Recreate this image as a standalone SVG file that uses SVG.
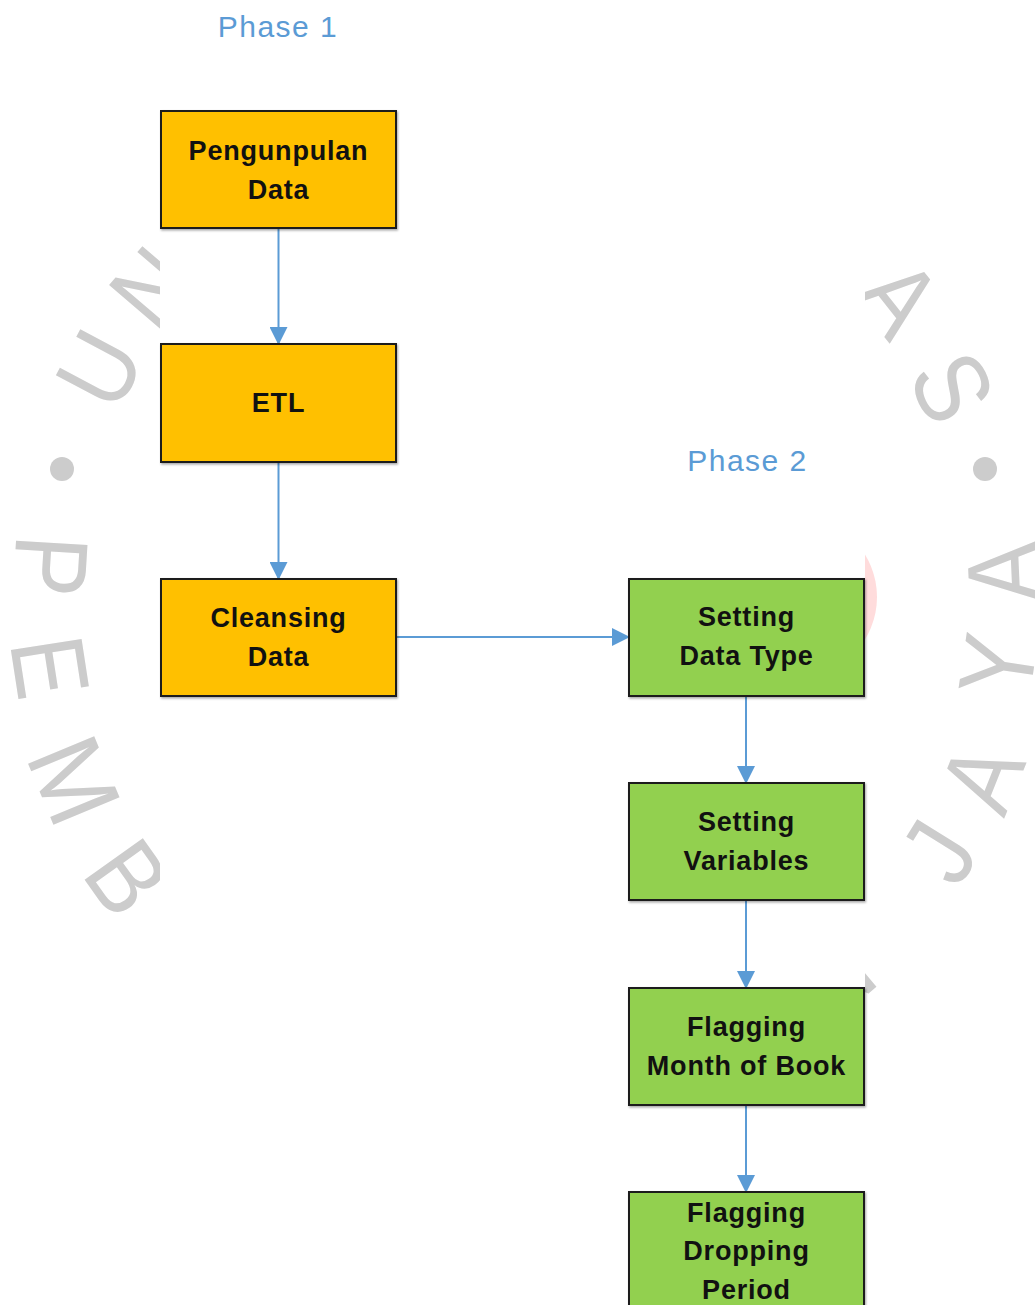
<svg xmlns="http://www.w3.org/2000/svg" width="1035" height="1305" viewBox="0 0 1035 1305">
  <defs>
    <style>
      .wm { font-family: "Liberation Sans", Arial, sans-serif; font-size: 104px; fill: #cccccc; text-anchor: middle; }
      .box { stroke: #1e1e1e; stroke-width: 2; filter: url(#sh); }
      .orange { fill: #ffc000; }
      .green { fill: #92d050; }
      .lbl { font-family: "Liberation Sans", Arial, sans-serif; font-size: 27px; font-weight: bold; fill: #111111; text-anchor: middle; letter-spacing: 0.8px; }
      .phase { font-family: "Liberation Sans", Arial, sans-serif; font-size: 30px; fill: #5b9bd5; text-anchor: middle; letter-spacing: 1.5px; }
      .conn { stroke: #5b9bd5; stroke-width: 2; fill: none; marker-end: url(#arr); }
    </style>
    <filter id="sh" x="-5%" y="-5%" width="115%" height="115%">
      <feDropShadow dx="1" dy="1.5" stdDeviation="1" flood-color="#000000" flood-opacity="0.35"/>
    </filter>
    <marker id="arr" markerUnits="userSpaceOnUse" markerWidth="18" markerHeight="18" refX="17" refY="9" orient="auto">
      <path d="M0,0 L18,9 L0,18 Z" fill="#5b9bd5"/>
    </marker>
    <clipPath id="wmclip">
      <rect x="0" y="0" width="160" height="1305"/>
      <rect x="865" y="0" width="170" height="1305"/>
    </clipPath>
  </defs>

  <rect x="0" y="0" width="1035" height="1305" fill="#ffffff"/>

  <g id="watermark" clip-path="url(#wmclip)">
    <circle cx="796" cy="597" r="81" fill="#ffdcdc"/>
    <circle cx="62" cy="469" r="12" fill="#cccccc"/>
    <circle cx="985" cy="469" r="12" fill="#cccccc"/>
    <text class="wm" transform="translate(98.5,368.5) rotate(-62) scale(0.88,1)" y="37">U</text>
    <text class="wm" transform="translate(152,288) rotate(-49.4) scale(0.88,1)" y="37">N</text>
    <text class="wm" transform="translate(900,297) rotate(51.7) scale(0.88,1)" y="37">A</text>
    <text class="wm" transform="translate(953,387) rotate(64.3) scale(0.88,1)" y="37">S</text>
    <text class="wm" transform="translate(51.5,566) rotate(93.5) scale(0.88,1)" y="37">P</text>
    <text class="wm" transform="translate(51,667) rotate(81.2) scale(0.88,1)" y="37">E</text>
    <text class="wm" transform="translate(75,780) rotate(67.5) scale(0.95,1)" y="37">M</text>
    <text class="wm" transform="translate(128,877) rotate(54.5) scale(0.88,1)" y="37">B</text>
    <text class="wm" transform="translate(208,955) rotate(41) scale(0.88,1)" y="37">A</text>
    <text class="wm" transform="translate(833,975) rotate(-40) scale(0.88,1)" y="37">N</text>
    <text class="wm" transform="translate(938,851) rotate(-58.2) scale(0.88,1)" y="37">J</text>
    <text class="wm" transform="translate(981,777) rotate(-68.2) scale(0.88,1)" y="37">A</text>
    <text class="wm" transform="translate(997,665) rotate(-81.5) scale(0.88,1)" y="37">Y</text>
    <text class="wm" transform="translate(1003,572) rotate(-92.6) scale(0.88,1)" y="37">A</text>
  </g>

  <g id="phase1"><text class="phase" x="278" y="37">Phase 1</text></g>
  <g id="phase2"><text class="phase" x="747.5" y="471">Phase 2</text></g>

  <g id="connectors">
    <line class="conn" x1="278.5" y1="228" x2="278.5" y2="344"/>
    <line class="conn" x1="278.5" y1="462" x2="278.5" y2="579"/>
    <line class="conn" x1="396" y1="637" x2="629" y2="637"/>
    <line class="conn" x1="746" y1="696" x2="746" y2="783"/>
    <line class="conn" x1="746" y1="900" x2="746" y2="988"/>
    <line class="conn" x1="746" y1="1105" x2="746" y2="1192"/>
  </g>

  <g id="n1">
    <rect class="box orange" x="161" y="111" width="235" height="117"/>
    <text class="lbl" x="278.5" y="160">Pengunpulan</text>
    <text class="lbl" x="278.5" y="199">Data</text>
  </g>
  <g id="n2">
    <rect class="box orange" x="161" y="344" width="235" height="118"/>
    <text class="lbl" x="278.5" y="412">ETL</text>
  </g>
  <g id="n3">
    <rect class="box orange" x="161" y="579" width="235" height="117"/>
    <text class="lbl" x="278.5" y="627">Cleansing</text>
    <text class="lbl" x="278.5" y="666">Data</text>
  </g>
  <g id="n4">
    <rect class="box green" x="629" y="579" width="235" height="117"/>
    <text class="lbl" x="746.5" y="626">Setting</text>
    <text class="lbl" x="746.5" y="665">Data Type</text>
  </g>
  <g id="n5">
    <rect class="box green" x="629" y="783" width="235" height="117"/>
    <text class="lbl" x="746.5" y="831">Setting</text>
    <text class="lbl" x="746.5" y="870">Variables</text>
  </g>
  <g id="n6">
    <rect class="box green" x="629" y="988" width="235" height="117"/>
    <text class="lbl" x="746.5" y="1036">Flagging</text>
    <text class="lbl" x="746.5" y="1075">Month of Book</text>
  </g>
  <g id="n7">
    <rect class="box green" x="629" y="1192" width="235" height="130"/>
    <text class="lbl" x="746.5" y="1222">Flagging</text>
    <text class="lbl" x="746.5" y="1260">Dropping</text>
    <text class="lbl" x="746.5" y="1299">Period</text>
  </g>
</svg>
